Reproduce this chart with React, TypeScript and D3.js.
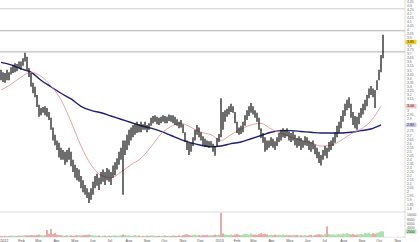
import React from "react";
import * as d3 from "d3";

const W = 420;
const H = 242;

// Daily-ish price bars (high / low)
const highs = [
  3.51, 3.48, 3.47, 3.51, 3.48, 3.54, 3.57, 3.59, 3.58, 3.61,
  3.61, 3.65, 3.72, 3.67, 3.53, 3.47, 3.35, 3.30, 3.20, 3.08,
  3.04, 3.05, 3.06, 3.04, 2.99, 2.92, 2.80, 2.71, 2.64, 2.61,
  2.55, 2.52, 2.50, 2.52, 2.55, 2.50, 2.40, 2.34, 2.30, 2.28,
  2.20, 2.15, 2.09, 2.05, 2.00, 2.05, 2.13, 2.20, 2.23, 2.18,
  2.25, 2.28, 2.25, 2.30, 2.28, 2.25, 2.33, 2.37, 2.42, 2.50,
  2.55, 2.64, 2.64, 2.71, 2.77, 2.80, 2.83, 2.85, 2.87, 2.84,
  2.87, 2.84, 2.87, 2.83, 2.85, 2.92, 2.94, 2.95, 2.93, 2.92,
  2.93, 2.95, 2.94, 2.93, 2.96, 2.95, 2.95, 2.93, 2.90, 2.87,
  2.89, 2.84, 2.74, 2.64, 2.61, 2.61, 2.68, 2.77, 2.83, 2.80,
  2.74, 2.69, 2.66, 2.64, 2.63, 2.63, 2.60, 2.57, 2.67, 2.72,
  3.16, 2.99, 3.01, 3.03, 3.06, 3.09, 3.06, 2.99, 2.87, 2.80,
  2.82, 2.87, 2.95, 3.01, 3.06, 3.10, 3.06, 3.01, 2.98, 2.92,
  2.79, 2.73, 2.68, 2.64, 2.64, 2.68, 2.66, 2.63, 2.68, 2.73,
  2.77, 2.79, 2.77, 2.79, 2.75, 2.73, 2.75, 2.71, 2.67, 2.69,
  2.67, 2.64, 2.69, 2.68, 2.64, 2.62, 2.64, 2.59, 2.55, 2.50,
  2.46, 2.52, 2.57, 2.55, 2.62, 2.64, 2.68, 2.74, 2.82, 2.87,
  2.94, 3.01, 3.09, 3.14, 3.17, 3.09, 2.99, 2.94, 2.93, 2.98,
  3.04, 3.09, 3.14, 3.20, 3.28, 3.31, 3.28, 3.26, 3.38, 3.51,
  3.69, 3.94,
];
const lows = [
  3.38, 3.36, 3.35, 3.38, 3.38, 3.45, 3.47, 3.48, 3.49, 3.53,
  3.51, 3.56, 3.61, 3.51, 3.42, 3.30, 3.22, 3.17, 3.05, 2.93,
  2.95, 2.98, 2.95, 2.93, 2.89, 2.77, 2.64, 2.58, 2.52, 2.43,
  2.40, 2.40, 2.34, 2.37, 2.40, 2.32, 2.25, 2.18, 2.15, 2.13,
  2.05, 2.00, 1.97, 1.93, 1.87, 1.91, 1.97, 2.05, 2.08, 2.03,
  2.10, 2.13, 2.09, 2.15, 2.13, 2.09, 2.18, 2.21, 2.28, 2.34,
  2.40, 1.97, 2.46, 2.52, 2.58, 2.64, 2.68, 2.71, 2.73, 2.74,
  2.74, 2.77, 2.77, 2.74, 2.77, 2.82, 2.85, 2.87, 2.84, 2.83,
  2.85, 2.87, 2.85, 2.85, 2.88, 2.87, 2.85, 2.83, 2.82, 2.79,
  2.80, 2.73, 2.62, 2.52, 2.46, 2.50, 2.57, 2.64, 2.71, 2.68,
  2.64, 2.58, 2.56, 2.56, 2.55, 2.56, 2.50, 2.45, 2.57, 2.62,
  2.68, 2.77, 2.87, 2.93, 2.96, 2.99, 2.98, 2.85, 2.73, 2.71,
  2.72, 2.74, 2.82, 2.89, 2.94, 2.98, 2.96, 2.92, 2.87, 2.77,
  2.67, 2.61, 2.50, 2.52, 2.55, 2.57, 2.55, 2.52, 2.57, 2.62,
  2.64, 2.68, 2.67, 2.69, 2.64, 2.62, 2.64, 2.58, 2.55, 2.57,
  2.52, 2.55, 2.58, 2.57, 2.52, 2.50, 2.53, 2.47, 2.42, 2.36,
  2.33, 2.40, 2.45, 2.42, 2.50, 2.52, 2.57, 2.61, 2.68, 2.73,
  2.79, 2.87, 2.94, 3.01, 3.04, 2.92, 2.83, 2.79, 2.77, 2.84,
  2.92, 2.96, 3.01, 3.06, 3.16, 3.20, 3.17, 3.04, 3.26, 3.38,
  3.48, 3.65,
];
const volumes = [
  500, 400, 600, 450, 500, 700, 550, 600, 500, 650,
  600, 700, 900, 800, 700, 900, 800, 750, 900, 1100,
  900, 700, 800, 3200, 1500, 3700, 1400, 1800, 1200, 900,
  800, 700, 600, 900, 700, 800, 600, 700, 900, 800,
  700, 800, 900, 1000, 1200, 900, 800, 700, 600, 700,
  500, 600, 700, 500, 600, 500, 700, 800, 600, 700,
  800, 1200, 900, 700, 800, 600, 700, 900, 600, 700,
  500, 600, 500, 700, 600, 800, 700, 600, 500, 600,
  500, 600, 700, 500, 600, 500, 700, 600, 500, 800,
  600, 900, 1100, 1300, 900, 700, 1000, 1200, 800, 900,
  700, 900, 800, 1000, 700, 900, 800, 1200, 900, 1000,
  11000, 1600, 1200, 1000, 900, 1300, 800, 1200, 1400, 1000,
  900, 1200, 1500, 1300, 1100, 1600, 1000, 1200, 900, 1400,
  1700, 1300, 1500, 1100, 900, 1000, 800, 1200, 900, 1000,
  900, 1100, 800, 1000, 900, 700, 1000, 800, 900, 700,
  800, 700, 900, 600, 800, 1000, 700, 900, 1100, 1300,
  1200, 1000, 1400, 5000, 1500, 1100, 1300, 1000, 1200, 1400,
  1100, 1600, 1300, 1800, 1500, 1200, 1400, 1000, 1100, 1300,
  1500, 1200, 1800, 1600, 2000, 1400, 1700, 1500, 1900, 2200,
  2700, 2500,
];
const volUp = [
  0, 0, 0, 1, 0, 1, 1, 1, 0, 1,
  0, 1, 1, 0, 0, 0, 0, 0, 0, 0,
  1, 1, 0, 0, 0, 0, 0, 0, 0, 0,
  0, 1, 0, 1, 1, 0, 0, 0, 0, 1,
  0, 0, 0, 0, 0, 1, 1, 1, 1, 0,
  1, 1, 0, 1, 0, 0, 1, 1, 1, 1,
  1, 0, 1, 1, 1, 1, 1, 1, 1, 0,
  1, 0, 1, 0, 1, 1, 1, 1, 0, 0,
  1, 1, 0, 0, 1, 0, 0, 0, 0, 0,
  1, 0, 0, 0, 0, 0, 1, 1, 1, 0,
  0, 0, 0, 0, 0, 1, 0, 0, 1, 1,
  0, 0, 1, 1, 1, 1, 0, 0, 0, 0,
  1, 1, 1, 1, 1, 1, 0, 0, 0, 0,
  0, 0, 0, 0, 1, 1, 0, 0, 1, 1,
  1, 1, 0, 1, 0, 0, 1, 0, 0, 1,
  0, 1, 1, 0, 0, 0, 1, 0, 0, 0,
  0, 1, 1, 0, 1, 1, 1, 1, 1, 1,
  1, 1, 1, 1, 1, 0, 0, 0, 0, 1,
  1, 1, 1, 1, 1, 1, 0, 0, 1, 1,
  1, 1,
];
// moving averages sampled every 5 bars
const maStep = 5;
const maFast = [
  3.26, 3.33, 3.42, 3.48, 3.43, 3.31, 3.14, 2.87, 2.57, 2.34,
  2.21, 2.18, 2.25, 2.34, 2.42, 2.56, 2.72, 2.81, 2.85, 2.80,
  2.74, 2.71, 2.64, 2.71, 2.78, 2.83, 2.85, 2.78, 2.73, 2.68,
  2.64, 2.61, 2.57, 2.58, 2.64, 2.72, 2.78, 2.88, 3.06,
];
const maSlow = [
  3.60, 3.57, 3.52, 3.48, 3.38, 3.30, 3.22, 3.15, 3.06, 3.01,
  2.98, 2.94, 2.90, 2.86, 2.82, 2.79, 2.75, 2.70, 2.65, 2.61,
  2.58, 2.56, 2.57, 2.60, 2.62, 2.66, 2.70, 2.74, 2.76, 2.76,
  2.75, 2.74, 2.73, 2.73, 2.73, 2.74, 2.76, 2.78, 2.83,
];
const levelLines = [4.26, 3.99, 3.73];
const lastClose = 3.85;
const priceTicks = d3.range(36, 88).map((k) => +(k * 0.05).toFixed(2));
const volTicks = [10000, 8000, 6000, 4000];
const axisStart = new Date(2012, 0, 1);
const axisEnd = new Date(2013, 10, 1);

export default function App() {
  const N = highs.length;
  const x = d3.scaleLinear().domain([0, N - 1]).range([1, 383]);
  const y = d3.scaleLinear().domain([1.8, 4.35]).range([208.6, 1.5]);
  const yv = d3.scaleLinear().domain([0, 11500]).range([237, 212]);
  const t = d3.scaleTime().domain([axisStart, axisEnd]).range([-0.5, 394]);
  const months = d3.timeMonth.range(axisStart, d3.timeMonth.offset(axisEnd, 1));
  const axisX = 405;

  const maLine = d3
    .line<number>()
    .x((_, i) => x(Math.min(i * maStep, N - 1)))
    .y((d) => y(d))
    .curve(d3.curveMonotoneX);

  const fmt = (v: number) => String(+v.toFixed(2));
  const font = "'Liberation Sans', Arial, sans-serif";

  const tagValues = [lastClose, maFast[maFast.length - 1], maSlow[maSlow.length - 1]];
  const tagYs = tagValues.map((v) => y(v));
  const visibleTicks = priceTicks.filter((v) => tagYs.every((ty) => Math.abs(y(v) - ty) > 3.6));

  const tag = (v: number, yy: number, bg: string, key: string, fg = "#222") => (
    <g key={key}>
      <rect x={axisX + 0.5} y={yy - 2.2} width={11} height={4.4} fill={bg} />
      <text x={axisX + 2} y={yy} fontSize={3.6} fill={fg} dominantBaseline="central" fontFamily={font}>
        {fmt(v)}
      </text>
    </g>
  );

  return (
    <svg
      width={W}
      height={H}
      style={{ position: "absolute", left: 0, top: 0, background: "#fff" }}
      viewBox={`0 0 ${W} ${H}`}
    >
      <rect x={0} y={0} width={W} height={H} fill="#fff" />
      {/* horizontal level lines */}
      {levelLines.map((v, i) => (
        <line key={"lv" + i} x1={0} x2={axisX} y1={y(v)} y2={y(v)} stroke={i === 0 ? "#c8c8c8" : "#a8a8a8"} strokeWidth={0.9} />
      ))}
      {/* panel separators */}
      <line x1={0} x2={axisX} y1={212} y2={212} stroke="#cfcfcf" strokeWidth={0.8} />
      <line x1={0} x2={axisX} y1={237.2} y2={237.2} stroke="#d8d8d8" strokeWidth={0.6} />
      <line x1={axisX} x2={axisX} y1={0} y2={238} stroke="#cfcfcf" strokeWidth={0.7} />

      {/* volume */}
      {volumes.map((v, i) => (
        <line
          key={"v" + i}
          x1={x(i)}
          x2={x(i)}
          y1={yv(0)}
          y2={yv(v)}
          stroke={volUp[i] ? "#6cc96c" : "#d86464"}
          strokeWidth={1.1}
        />
      ))}

      {/* moving averages */}
      <path d={maLine(maSlow) || ""} fill="none" stroke="#1f1f70" strokeWidth={1.4} />
      <path d={maLine(maFast) || ""} fill="none" stroke="#e38a8a" strokeWidth={0.8} />

      {/* price bars */}
      {highs.map((h, i) => (
        <line key={"b" + i} x1={x(i)} x2={x(i)} y1={y(h)} y2={y(lows[i])} stroke="#151515" strokeWidth={1.25} />
      ))}

      {/* right price axis */}
      {visibleTicks.map((v) => (
        <text key={"pt" + v} x={axisX + 2} y={y(v)} fontSize={3.4} fill="#666" dominantBaseline="central" fontFamily={font}>
          {fmt(v)}
        </text>
      ))}
      {volTicks.map((v) => (
        <text key={"vt" + v} x={axisX + 2} y={yv(v)} fontSize={3.4} fill="#666" dominantBaseline="central" fontFamily={font}>
          {v}
        </text>
      ))}
      {tag(tagValues[0], tagYs[0], "#f2d21c", "tc")}
      {tag(tagValues[1], tagYs[1], "#f6c6c6", "tf")}
      {tag(tagValues[2], tagYs[2], "#c8c8ee", "ts")}
      <g>
        <rect x={axisX + 0.5} y={yv(volumes[N - 1]) - 2.2} width={11} height={4.4} fill="#b8e8b8" />
        <text x={axisX + 2} y={yv(volumes[N - 1])} fontSize={3.4} fill="#222" dominantBaseline="central" fontFamily={font}>
          {volumes[N - 1]}
        </text>
      </g>

      {/* bottom time axis */}
      {months.map((m) => (
        <text key={"m" + m.getTime()} x={t(m) + 0.5} y={241.5} fontSize={3.8} fill="#555" fontFamily={font}>
          {m.getMonth() === 0 ? d3.timeFormat("%Y")(m) : d3.timeFormat("%b")(m)}
        </text>
      ))}
    </svg>
  );
}
